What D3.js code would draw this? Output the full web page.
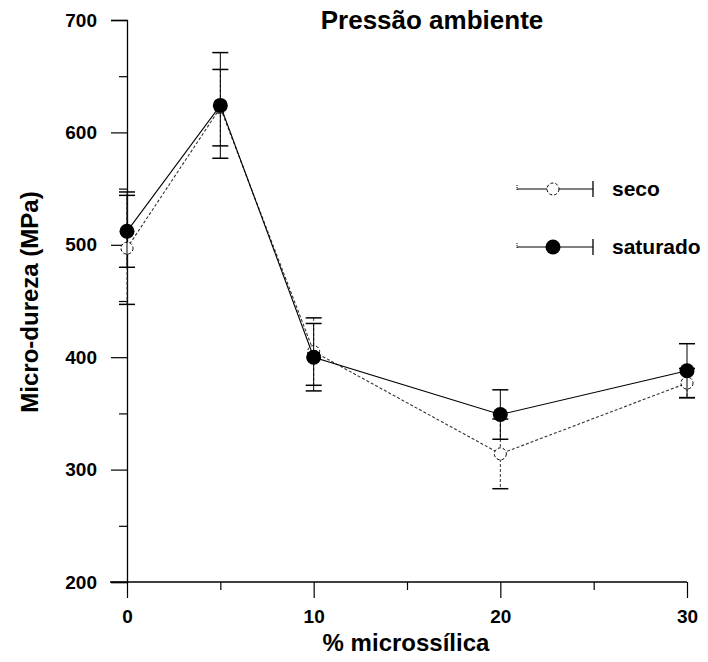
<!DOCTYPE html>
<html>
<head>
<meta charset="utf-8">
<script src="https://cdn.jsdelivr.net/npm/d3@7"></script>
<style>
  html, body { margin: 0; padding: 0; background: #fff; }
  svg { display: block; }
  text { font-family: "Liberation Sans", Arial, sans-serif; font-weight: bold; fill: #000; }
</style>
</head>
<body>
<svg id="chart" width="708" height="662"></svg>
<script>
// ---- data ----
const categories = [0, 5, 10, 20, 30];
const secoValues = [497, 622, 405, 314, 377];
const secoErrors = [50, 34, 30, 31, 13];
const saturadoValues = [512, 624, 400, 349, 388];
const saturadoErrors = [32, 47, 30, 22, 24];
const xTicks = [0, 5, 10, 15, 20, 25, 30];
const xTickLabels = ["0", "", "10", "", "20", "", "30"];
const yTicks = [200, 250, 300, 350, 400, 450, 500, 550, 600, 650, 700];
const yTickLabels = ["200", "", "300", "", "400", "", "500", "", "600", "", "700"];
const seriesNames = ["seco", "saturado"];
const chartTitle = "Pressão ambiente";
const xTitle = "% microssílica";
const yTitle = "Micro-dureza (MPa)";

// ---- layout ----
const svg = d3.select("#chart");
const x = d3.scaleLinear().domain([0, 30]).range([127, 687]);
const y = d3.scaleLinear().domain([200, 700]).range([582, 20]);

// axes
const xAxis = d3.axisBottom(x)
  .tickValues(xTicks)
  .tickFormat((d, i) => xTickLabels[i])
  .tickSizeOuter(0)
  .tickSize(16)
  .tickPadding(12);
const gx = svg.append("g").attr("transform", `translate(0,${y(200)})`).call(xAxis);
gx.select(".domain").attr("d", `M110,0H${x(30)}`).attr("stroke", "#000").attr("stroke-width", 1.3);
gx.selectAll(".tick line").attr("y2", (d, i) => xTickLabels[i] ? 16 : 8).attr("stroke", "#000").attr("stroke-width", 1.2);
gx.selectAll(".tick text").style("font-size", "19px").attr("font-family", null);

const yAxis = d3.axisLeft(y)
  .tickValues(yTicks)
  .tickFormat((d, i) => yTickLabels[i])
  .tickSizeOuter(0)
  .tickSize(16)
  .tickPadding(14);
const gy = svg.append("g").attr("transform", `translate(${x(0)},0)`).call(yAxis);
gy.select(".domain").attr("stroke", "#000").attr("stroke-width", 1.3);
gy.selectAll(".tick line").attr("x2", (d, i) => yTickLabels[i] ? -16 : -8).attr("stroke", "#000").attr("stroke-width", 1.2);
gy.selectAll(".tick text").style("font-size", "19px").attr("font-family", null);

// titles
svg.append("text").attr("x", 432).attr("y", 29).attr("text-anchor", "middle")
  .style("font-size", "26px").text(chartTitle);
svg.append("text").attr("x", 406).attr("y", 651).attr("text-anchor", "middle")
  .style("font-size", "24px").text(xTitle);
svg.append("text").attr("transform", "translate(38,302) rotate(-90)").attr("text-anchor", "middle")
  .style("font-size", "24px").text(yTitle);

// series
const series = [
  { name: seriesNames[0], values: secoValues, errors: secoErrors, filled: false, dash: "3,2", color: "#333" },
  { name: seriesNames[1], values: saturadoValues, errors: saturadoErrors, filled: true, dash: null, color: "#000" }
];

const line = d3.line().x(d => x(d.c)).y(d => y(d.v));

series.forEach(s => {
  const pts = categories.map((c, i) => ({ c, v: s.values[i], e: s.errors[i] }));
  const g = svg.append("g");
  const eb = g.selectAll("g.eb").data(pts).join("g");
  eb.append("line")
    .attr("x1", d => x(d.c)).attr("x2", d => x(d.c))
    .attr("y1", d => y(d.v + d.e)).attr("y2", d => y(d.v - d.e))
    .attr("stroke", s.color).attr("stroke-width", 1).attr("stroke-dasharray", s.dash);
  [1, -1].forEach(sign => {
    eb.append("line")
      .attr("x1", d => x(d.c) - 8).attr("x2", d => x(d.c) + 8)
      .attr("y1", d => y(d.v + sign * d.e)).attr("y2", d => y(d.v + sign * d.e))
      .attr("stroke", "#000").attr("stroke-width", 1.5);
  });
  g.append("path").datum(pts).attr("d", line)
    .attr("fill", "none").attr("stroke", s.color).attr("stroke-width", 1.1)
    .attr("stroke-dasharray", s.dash);
  g.selectAll("circle").data(pts).join("circle")
    .attr("cx", d => x(d.c)).attr("cy", d => y(d.v))
    .attr("r", s.filled ? 7.5 : 6)
    .attr("fill", s.filled ? "#000" : "#fff")
    .attr("stroke", "#000").attr("stroke-width", s.filled ? 0 : 1)
    .attr("stroke-dasharray", s.filled ? null : "3,2");
});

// legend
const legendY = [189, 247];
series.forEach((s, i) => {
  const g = svg.append("g").attr("transform", `translate(0,${legendY[i]})`);
  g.append("line").attr("x1", 517).attr("x2", 593).attr("y1", 0).attr("y2", 0)
    .attr("stroke", "#000").attr("stroke-width", 1.1);
  g.append("line").attr("x1", 593).attr("x2", 593).attr("y1", -8).attr("y2", 8)
    .attr("stroke", "#000").attr("stroke-width", 1.3);
  g.append("line").attr("x1", 517).attr("x2", 517).attr("y1", -4).attr("y2", 2)
    .attr("stroke", "#000").attr("stroke-width", 1).attr("stroke-dasharray", "1,1");
  g.append("circle").attr("cx", 553).attr("cy", 0).attr("r", s.filled ? 7.5 : 6)
    .attr("fill", s.filled ? "#000" : "#fff").attr("stroke", "#000")
    .attr("stroke-width", s.filled ? 0 : 1).attr("stroke-dasharray", s.filled ? null : "3,2");
  g.append("text").attr("x", 612).attr("y", 7).style("font-size", "21px").text(s.name);
});
</script>
</body>
</html>
